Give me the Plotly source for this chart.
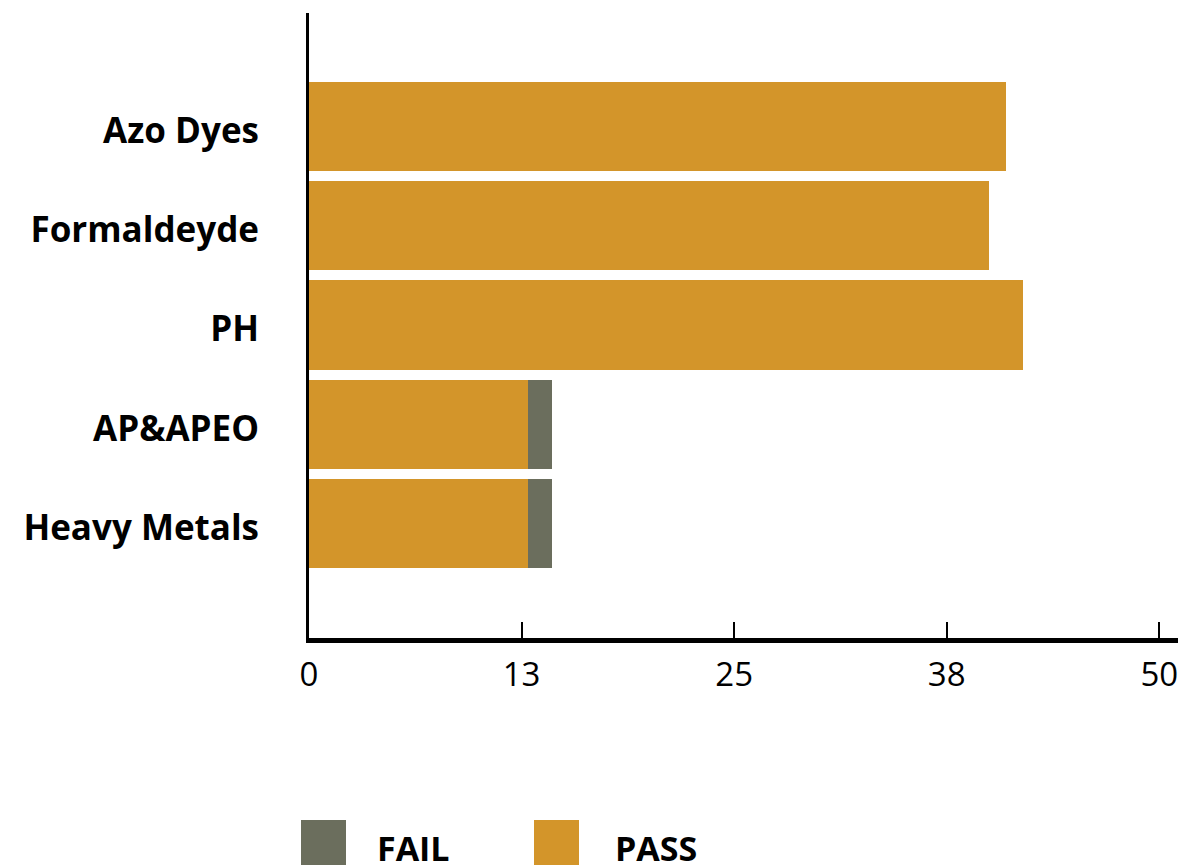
import plotly.graph_objects as go

categories = ["Heavy Metals", "AP&APEO", "PH", "Formaldeyde", "Azo Dyes"]
pass_values = [12.9, 12.9, 42, 40, 41]
fail_values = [1.4, 1.4, 0, 0, 0]
tick_values = [0, 12.5, 25, 37.5, 50]
tick_labels = ["0", "13", "25", "38", "50"]

PASS_COLOR = "#D3952A"
FAIL_COLOR = "#6B6E5D"

W, H = 1181, 865
L, T = 309, 13
R = W - 1178
B = H - 638

fig = go.Figure()
fig.add_trace(go.Bar(y=categories, x=pass_values, orientation="h", name="PASS",
                     marker=dict(color=PASS_COLOR, line=dict(width=0)), width=0.9))
fig.add_trace(go.Bar(y=categories, x=fail_values, orientation="h", name="FAIL",
                     marker=dict(color=FAIL_COLOR, line=dict(width=0)), width=0.9))

fig.update_layout(
    width=W, height=H, autosize=False,
    barmode="stack",
    showlegend=False,
    plot_bgcolor="white", paper_bgcolor="white",
    margin=dict(l=L, r=R, t=T, b=B, pad=0),
    font=dict(family="Open Sans", color="black"),
)
fig.update_xaxes(
    range=[0, 51.1], tickvals=tick_values, ticktext=tick_labels,
    showgrid=False, zeroline=False,
    showline=True, linecolor="black", linewidth=5,
    ticks="inside", ticklen=16, tickwidth=2, tickcolor="black",
    tickfont=dict(size=33, family="Open Sans", color="black"),
    ticklabelstandoff=3,
)
fig.update_yaxes(
    range=[-1.15, 5.14], showgrid=False, zeroline=False,
    showline=True, linecolor="black", linewidth=3,
    ticks="", tickfont=dict(size=35, family="Open Sans", color="black", weight="bold"),
    ticklabelstandoff=40, ticklabelshift=4,
)

pw = W - L - R
ph = H - T - B
def px_x(px):
    return (px - L) / pw
def px_y(py):
    return (H - B - py) / ph

legend_items = [("FAIL", FAIL_COLOR, 301, 375), ("PASS", PASS_COLOR, 534, 613)]
for name, color, sx, tx in legend_items:
    fig.add_shape(type="rect", xref="paper", yref="paper",
                  x0=px_x(sx), x1=px_x(sx + 45), y0=px_y(870), y1=px_y(820),
                  fillcolor=color, line=dict(width=0))
    fig.add_annotation(text=name, xref="paper", yref="paper", x=px_x(tx), y=px_y(848),
                       xanchor="left", yanchor="middle", showarrow=False, height=28,
                       font=dict(size=34, family="Open Sans", color="black", weight="bold"))

fig.write_html("out.html", config={"displayModeBar": False},
               post_script="document.body.style.margin='0';document.body.style.overflow='hidden';")
